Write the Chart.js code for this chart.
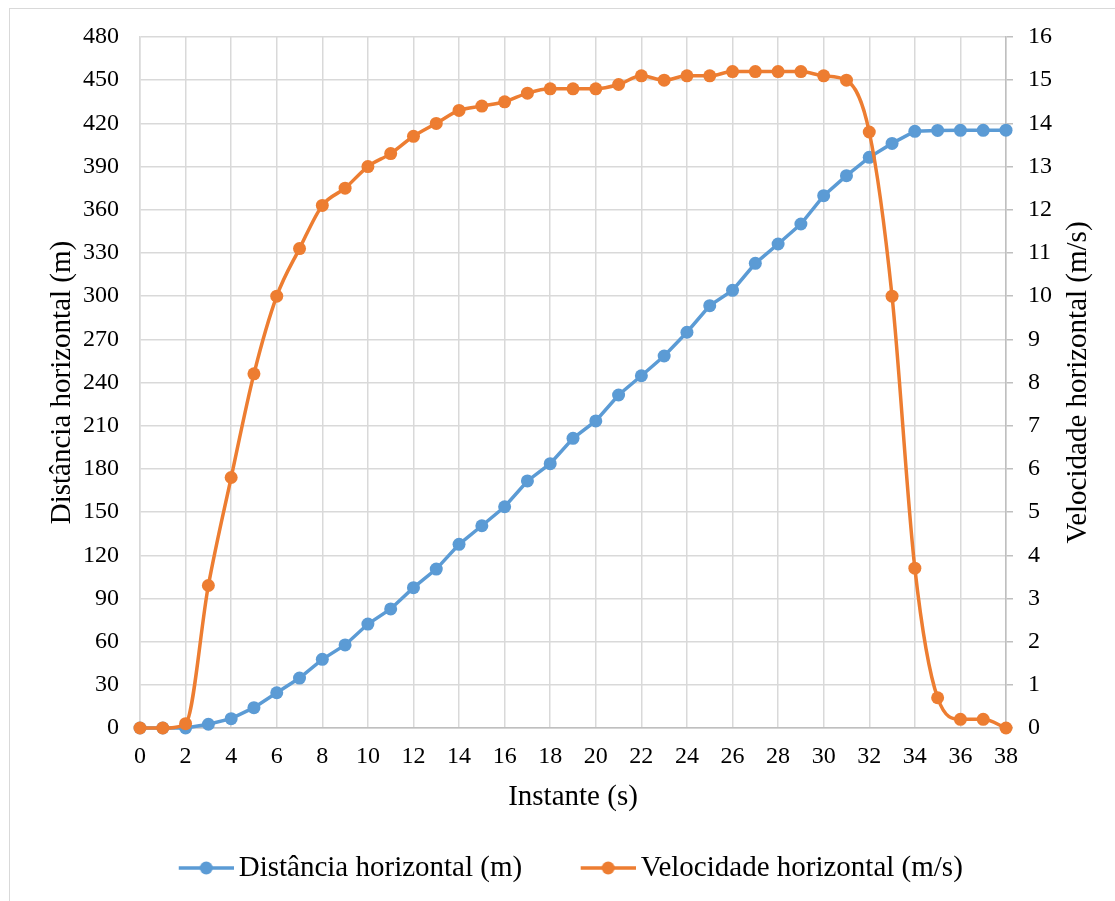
<!DOCTYPE html>
<html>
<head>
<meta charset="utf-8">
<title>Distância e velocidade horizontal</title>
<script src="https://cdn.jsdelivr.net/npm/chart.js@4"></script>
<style>
  html, body { margin: 0; padding: 0; background: #fff; overflow: hidden; }
  #moldura { position: absolute; left: 9px; top: 8px; width: 1300px; height: 1100px; border: 1.5px solid #d9d9d9; }
  #grafico { position: absolute; left: 0; top: 0; }
</style>
</head>
<body>
<div id="moldura"></div>
<canvas id="grafico" width="1115" height="901"></canvas>
<script>
var instantes = [0, 1, 2, 3, 4, 5, 6, 7, 8, 9, 10, 11, 12, 13, 14, 15, 16, 17, 18, 19,
                 20, 21, 22, 23, 24, 25, 26, 27, 28, 29, 30, 31, 32, 33, 34, 35, 36, 37, 38];
var distancia = [0, 0, 0, 2.6, 6.5, 14.1, 24.5, 34.7, 47.7, 57.7, 72.2, 82.7, 97.5, 110.4,
                 127.6, 140.5, 153.7, 171.6, 183.6, 201.2, 213.3, 231.3, 244.7, 258.4, 274.9,
                 293.4, 304.0, 322.8, 336.2, 350.1, 369.8, 383.7, 396.4, 406.1, 414.5, 415.1,
                 415.2, 415.2, 415.3];
var velocidade = [0, 0, 0.1, 3.3, 5.8, 8.2, 10.0, 11.1, 12.1, 12.5, 13.0, 13.3, 13.7, 14.0,
                  14.3, 14.4, 14.5, 14.7, 14.8, 14.8, 14.8, 14.9, 15.1, 15.0, 15.1, 15.1, 15.2,
                  15.2, 15.2, 15.2, 15.1, 15.0, 13.8, 10.0, 3.7, 0.7, 0.2, 0.2, 0];

var serieDistancia = 'Distância horizontal (m)';
var serieVelocidade = 'Velocidade horizontal (m/s)';
var tituloX = 'Instante (s)';
var tituloY = 'Distância horizontal (m)';
var tituloY1 = 'Velocidade horizontal (m/s)';

var AZUL = '#5b9bd5', LARANJA = '#ed7d31', GRADE = '#d9d9d9', EIXO = '#bfbfbf';
var FONTE = '"Liberation Serif", "Times New Roman", serif';

Chart.defaults.font.family = FONTE;
Chart.defaults.color = '#000';

function pontos( xs, ys ){
    return xs.map(function( x, i ){ return { x: x, y: ys[i] }; });
}

// line with a dot in the middle, drawn at the right end of the image
function amostraLegenda( cor ){
    var c = document.createElement( 'canvas' );
    c.width = 91; c.height = 16;
    var g = c.getContext( '2d' );
    g.strokeStyle = cor; g.lineWidth = 3.5;
    g.beginPath(); g.moveTo( 36, 8 ); g.lineTo( 91, 8 ); g.stroke();
    g.fillStyle = cor;
    g.beginPath(); g.arc( 63.5, 8, 6.5, 0, Math.PI * 2 ); g.fill();
    return c;
}
var amostras = [ amostraLegenda( AZUL ), amostraLegenda( LARANJA ) ];

// secondary axis title, read from bottom to top
var tituloDireito = {
    id: 'tituloDireito',
    afterDraw: function( chart ){
        var s = chart.scales.y1, ctx = chart.ctx;
        ctx.save();
        ctx.translate( s.right - 37, ( s.top + s.bottom ) / 2 );
        ctx.rotate( -Math.PI / 2 );
        ctx.font = '29px ' + FONTE;
        ctx.fillStyle = '#000';
        ctx.textAlign = 'center';
        ctx.textBaseline = 'middle';
        ctx.fillText( tituloY1, 0, 0 );
        ctx.restore();
    }
};

var ctx = document.getElementById( 'grafico' ).getContext( '2d' );
var grafico = new Chart( ctx, {
    type: 'line',
    data: {
        datasets: [{
            label: serieDistancia,
            data: pontos( instantes, distancia ),
            yAxisID: 'y',
            borderColor: AZUL,
            backgroundColor: AZUL,
            borderWidth: 3.5,
            pointRadius: 6.5,
            pointBorderWidth: 0,
            tension: 0,
            clip: false,
            order: 1
        }, {
            label: serieVelocidade,
            data: pontos( instantes, velocidade ),
            yAxisID: 'y1',
            borderColor: LARANJA,
            backgroundColor: LARANJA,
            borderWidth: 3.5,
            pointRadius: 6.5,
            pointBorderWidth: 0,
            cubicInterpolationMode: 'monotone',
            clip: false,
            order: 0
        }]
    },
    options: {
        responsive: false,
        animation: false,
        layout: { padding: { top: 37, left: 0, right: 0, bottom: 8.5 } },
        plugins: {
            tooltip: { enabled: false },
            legend: {
                position: 'bottom',
                labels: {
                    usePointStyle: true,
                    pointStyleWidth: 72,
                    padding: 32,
                    font: { size: 29 },
                    color: '#000',
                    generateLabels: function( chart ){
                        var items = Chart.defaults.plugins.legend.labels.generateLabels( chart );
                        items.sort(function( a, b ){ return a.datasetIndex - b.datasetIndex; });
                        items.forEach(function( it ){ it.pointStyle = amostras[ it.datasetIndex ]; });
                        return items;
                    }
                }
            }
        },
        scales: {
            x: {
                type: 'linear',
                min: 0,
                max: 38,
                ticks: { stepSize: 2, padding: 14.6, font: { size: 24 } },
                grid: { color: GRADE, lineWidth: 1.5, drawTicks: false },
                border: { color: EIXO, width: 1.5 },
                title: { display: true, text: tituloX, font: { size: 29 }, padding: { top: 0, bottom: 7 } },
                afterFit: function( s ){ s.height = 93.5; }
            },
            y: {
                position: 'left',
                min: 0,
                max: 480,
                ticks: { stepSize: 30, padding: 21, font: { size: 24 } },
                grid: { color: GRADE, lineWidth: 1.5, drawTicks: false },
                border: { color: GRADE, width: 1.5 },
                title: { display: true, text: tituloY, font: { size: 29 }, padding: { top: 44.6, bottom: 0 } },
                afterFit: function( s ){ s.width = 140; }
            },
            y1: {
                position: 'right',
                min: 0,
                max: 16,
                ticks: { stepSize: 1, padding: 15, font: { size: 24 } },
                grid: { drawOnChartArea: false, drawTicks: true, tickLength: 7, color: EIXO, lineWidth: 1.5 },
                border: { color: EIXO, width: 1.5 },
                title: { display: false, text: tituloY1 },
                afterFit: function( s ){ s.width = 109; }
            }
        }
    },
    plugins: [ tituloDireito ]
});
</script>
</body>
</html>
